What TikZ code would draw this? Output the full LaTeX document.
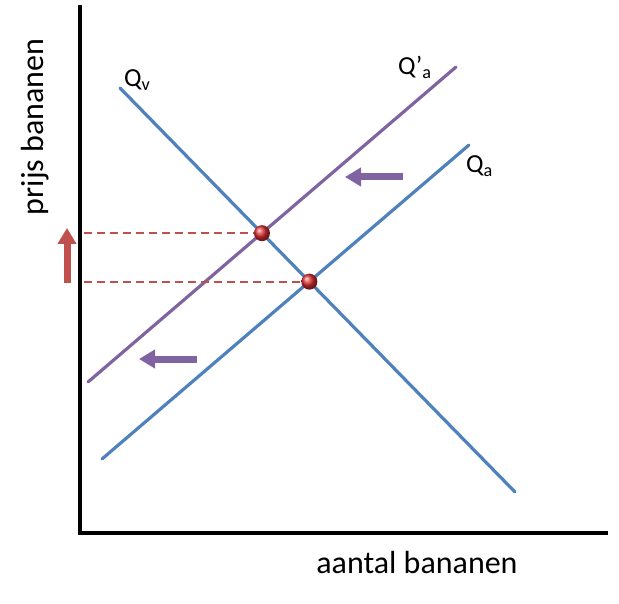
\documentclass[tikz,border=0pt]{standalone}
\usepackage{fontspec}
\setmainfont{Carlito}
\usetikzlibrary{arrows.meta}

\definecolor{lineblue}{HTML}{4F81BD}
\definecolor{linepurple}{HTML}{8064A2}
\definecolor{dotred}{HTML}{C0504D}
\definecolor{ballred}{HTML}{E03030}

\begin{document}
\begin{tikzpicture}[
		x=1pt, y=-1pt,
		axis/.style={line width=4pt, black},
		curve/.style={line width=3.2pt, line cap=round},
		guide/.style={draw=dotred, line width=2pt, dash pattern=on 8pt off 5pt},
		movearrow/.style={line width=7pt, -{Triangle[width=18pt, length=16pt]}},
		ball/.style={circle, minimum size=16pt, inner sep=0pt, ball color=ballred},
		curvelabel/.style={font=\fontsize{26}{28}\selectfont, inner sep=0pt, anchor=base west},
		axislabel/.style={font=\fontsize{32}{34}\selectfont, inner sep=0pt, anchor=base}
	]
	\useasboundingbox (0,0) rectangle (619,604);

	% axes
	\coordinate (origin) at (80,533);
	\coordinate (ytop) at (80,5);
	\coordinate (xend) at (608,533);
	\draw[axis] (ytop) -- (origin) -- (xend);

	% supply, demand and shifted supply
	\coordinate (qv1) at (120,88);
	\coordinate (qv2) at (515,492);
	\coordinate (qa1) at (102,459);
	\coordinate (qa2) at (469,145);
	\coordinate (qb1) at (88,382);
	\coordinate (qb2) at (456,67);
	\draw[curve, lineblue] (qv1) -- (qv2);
	\draw[curve, lineblue] (qa1) -- (qa2);
	\draw[curve, linepurple] (qb1) -- (qb2);

	% equilibria
	\coordinate (eqold) at (intersection of qv1--qv2 and qa1--qa2);
	\coordinate (eqnew) at (intersection of qv1--qv2 and qb1--qb2);
	\coordinate (gold) at (origin |- eqold);
	\coordinate (gnew) at (origin |- eqnew);
	\draw[guide] ([xshift=4pt]gold) -- (eqold);
	\draw[guide] ([xshift=4pt]gnew) -- (eqnew);
	\node[ball] (ballold) at (eqold) {};
	\node[ball] (ballnew) at (eqnew) {};

	% shift arrows
	\coordinate (pricelow) at (67,283);
	\coordinate (pricehigh) at (67,228);
	\draw[movearrow, dotred] (pricelow) -- (pricehigh);
	\coordinate (topstart) at (403,177);
	\coordinate (topend) at (345,177);
	\draw[movearrow, linepurple] (topstart) -- (topend);
	\coordinate (botstart) at (197,359);
	\coordinate (botend) at (139,359);
	\draw[movearrow, linepurple] (botstart) -- (botend);

	% labels
	\node[curvelabel] (labqv) at (124,87) {Q\textsubscript{v}};
	\node[curvelabel] (labqb) at (398,75) {Q’\textsubscript{a}};
	\node[curvelabel] (labqa) at (466,173) {Q\textsubscript{a}};
	\node[axislabel] (xlabel) at (417,573) {aantal bananen};
	\node[axislabel, rotate=90] (ylabel) at (43,127) {prijs bananen};
\end{tikzpicture}
\end{document}
